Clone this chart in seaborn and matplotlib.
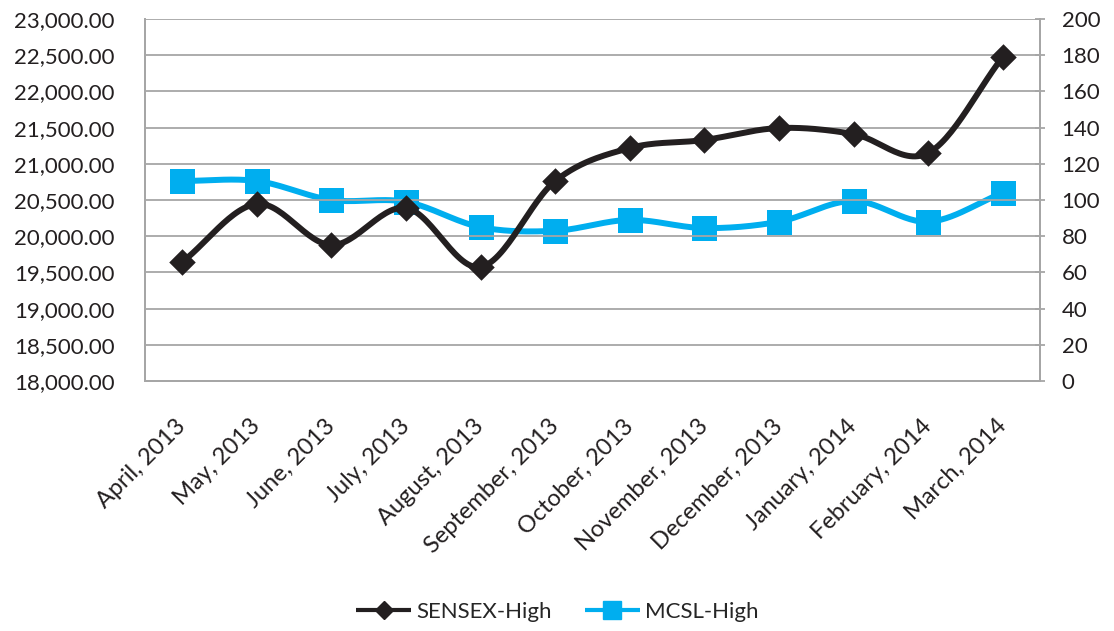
import matplotlib
matplotlib.use("Agg")
import matplotlib.pyplot as plt
from matplotlib.lines import Line2D
from matplotlib import ticker
import numpy as np
import pandas as pd
import seaborn as sns

# %% DATA
months = ["April, 2013", "May, 2013", "June, 2013", "July, 2013", "August, 2013",
          "September, 2013", "October, 2013", "November, 2013", "December, 2013",
          "January, 2014", "February, 2014", "March, 2014"]
sensex_high = [19644, 20445, 19878, 20390, 19575, 20762,
               21218, 21329, 21494, 21411, 21149, 22475]
mcsl_high = [110.5, 110.5, 100, 99, 85, 83, 89, 84.5, 88, 99.5, 88, 104]

df = pd.DataFrame({"month": months, "sensex": sensex_high, "mcsl": mcsl_high})
df["pos"] = np.arange(len(df))


def smooth(x, y, n=30):
    """Catmull-Rom curve through the points, like Excel's smoothed line."""
    x = np.asarray(x, float)
    y = np.asarray(y, float)
    px = np.concatenate([[2 * x[0] - x[1]], x, [2 * x[-1] - x[-2]]])
    py = np.concatenate([[2 * y[0] - y[1]], y, [2 * y[-1] - y[-2]]])
    t = np.linspace(0, 1, n)
    xs, ys = [], []
    for i in range(1, len(px) - 2):
        for p, out in ((px, xs), (py, ys)):
            p0, p1, p2, p3 = p[i - 1], p[i], p[i + 1], p[i + 2]
            out.append(0.5 * (2 * p1 + (-p0 + p2) * t
                              + (2 * p0 - 5 * p1 + 4 * p2 - p3) * t ** 2
                              + (-p0 + 3 * p1 - 3 * p2 + p3) * t ** 3))
    return np.concatenate(xs), np.concatenate(ys)


# %% STYLE
sns.set_style("white")
plt.rcParams["font.family"] = ["Lato", "DejaVu Sans"]
black = "#231f20"
blue = "#00aeef"
grid = "#a6a6a6"

fig = plt.figure(figsize=(11.14, 6.31), dpi=100)
ax = fig.add_axes([145 / 1114, 1 - 381 / 631, (1040 - 145) / 1114, (381 - 19) / 631])
ax2 = ax.twinx()

# MCSL on the secondary axis
sx, sy = smooth(df["pos"], df["mcsl"])
ax2.plot(sx, sy, color=blue, lw=4.3, solid_capstyle="round", zorder=2)
sns.scatterplot(data=df, x="pos", y="mcsl", ax=ax2, marker="s", s=18 ** 2,
                color=blue, linewidth=0, zorder=3, legend=False)

# SENSEX on top
ax.set_zorder(ax2.get_zorder() + 1)
ax.patch.set_visible(False)
sx, sy = smooth(df["pos"], df["sensex"])
ax.plot(sx, sy, color=black, lw=4.3, solid_capstyle="round", zorder=2)
sns.scatterplot(data=df, x="pos", y="sensex", ax=ax, marker="D", s=13.5 ** 2,
                color=black, linewidth=0, zorder=3, legend=False)

# Axes
ax.set_xlim(-0.5, len(months) - 0.5)
ax.set_ylim(18000, 23000)
ax.yaxis.set_major_locator(ticker.MultipleLocator(500))
ax.yaxis.set_major_formatter(ticker.FuncFormatter(lambda v, _: f"{v:,.2f}"))
ax2.set_ylim(0, 200)
ax2.yaxis.set_major_locator(ticker.MultipleLocator(20))

ax.set_xticks(df["pos"])
ax.set_xticklabels(months, rotation=45, ha="right", va="center",
                   rotation_mode="anchor")
ax.set_xlabel("")
ax.set_ylabel("")
ax2.set_ylabel("")

ax.grid(axis="y", color=grid, lw=1.3)
ax.grid(axis="x", visible=False)
ax2.grid(False)

for a in (ax, ax2):
    a.spines["top"].set_visible(False)
    for side in ("left", "right", "bottom"):
        a.spines[side].set_color(grid)
        a.spines[side].set_linewidth(1.3)

ax.tick_params(axis="y", length=0, pad=22, labelsize=16, labelcolor=black)
ax.tick_params(axis="x", length=4, width=1.3, color=grid, direction="out",
               pad=26, labelsize=17, labelcolor=black)
ax2.tick_params(axis="y", length=7, width=1.3, color=grid, direction="inout",
                pad=12, labelsize=16, labelcolor=black)

# Legend
handles = [
    Line2D([], [], color=black, lw=3, marker="D", markersize=9,
           solid_capstyle="butt", label="SENSEX-High"),
    Line2D([], [], color=blue, lw=3, marker="s", markersize=13,
           solid_capstyle="butt", label="MCSL-High"),
]
fig.legend(handles=handles, loc="center", bbox_to_anchor=(0.5, 0.03), ncol=2,
           frameon=False, fontsize=16, handlelength=2.5, columnspacing=1.5,
           handletextpad=0.2)

fig.savefig("out.png", dpi=100)
